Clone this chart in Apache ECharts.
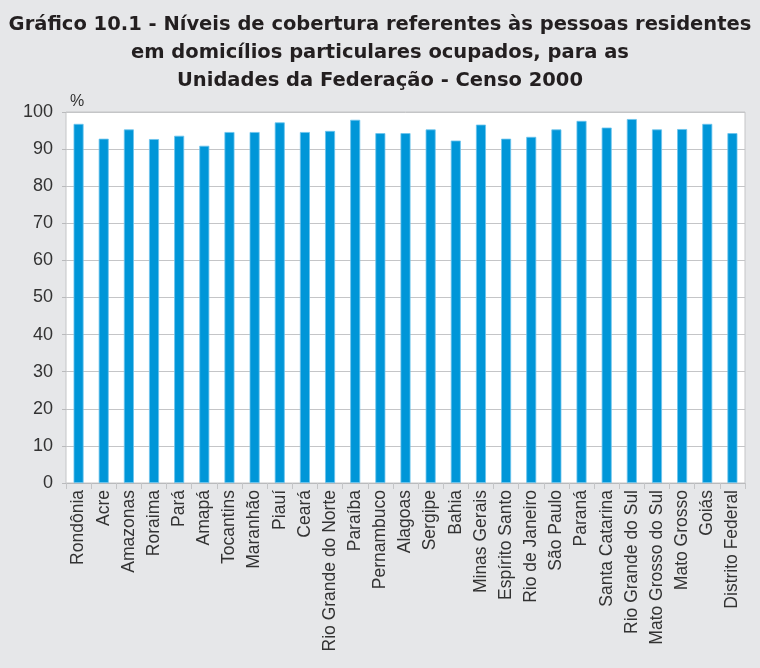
<!DOCTYPE html>
<html>
<head>
<meta charset="utf-8">
<script src="https://cdn.jsdelivr.net/npm/echarts@6/dist/echarts.min.js"></script>
<style>html,body{margin:0;padding:0;background:#e6e7e9;}#c{width:760px;height:668px;}</style>
</head>
<body>
<div id="c"></div>
<script>
const categories = ["Rondônia","Acre","Amazonas","Roraima","Pará","Amapá","Tocantins","Maranhão","Piauí","Ceará","Rio Grande do Norte","Paraíba","Pernambuco","Alagoas","Sergipe","Bahia","Minas Gerais","Espírito Santo","Rio de Janeiro","São Paulo","Paraná","Santa Catarina","Rio Grande do Sul","Mato Grosso do Sul","Mato Grosso","Goiás","Distrito Federal"];
const values = [96.8,92.8,95.3,92.7,93.6,90.9,94.6,94.6,97.2,94.6,94.9,97.9,94.3,94.3,95.3,92.3,96.6,92.8,93.3,95.3,97.6,95.8,98.1,95.3,95.4,96.8,94.3];
const titleText = "Gráfico 10.1 - Níveis de cobertura referentes às pessoas residentes\nem domicílios particulares ocupados, para as\nUnidades da Federação - Censo 2000";
const unitLabel = "%";

const chart = echarts.init(document.getElementById('c'));
chart.setOption({
  backgroundColor: '#e6e7e9',
  animation: false,
  title: {
    text: titleText,
    left: 'center',
    top: 6,
    textStyle: {fontFamily: 'DejaVu Sans', fontWeight: 'bold', fontSize: 19.5, color: '#231f20', lineHeight: 28}
  },
  grid: {left: 66, right: 15, top: 112, bottom: 185, show: true, backgroundColor: '#ffffff', borderColor: '#c4c5c7', borderWidth: 1},
  xAxis: {
    type: 'category',
    data: categories,
    axisLine: {lineStyle: {color: '#b9babc', width: 1}},
    axisTick: {show: true, length: 6, lineStyle: {color: '#c4c5c7'}},
    axisLabel: {rotate: 90, interval: 0, fontFamily: 'Liberation Sans', fontSize: 17.5, color: '#333333', margin: 7}
  },
  yAxis: {
    type: 'value',
    min: 0, max: 100, interval: 10,
    name: unitLabel,
    nameLocation: 'end',
    nameGap: 2,
    nameTextStyle: {fontFamily: 'Liberation Sans', fontSize: 16, color: '#333333', align: 'left', padding: [0,0,0,4]},
    axisLine: {show: false},
    axisTick: {show: true, length: 4, lineStyle: {color: '#b9babc'}},
    axisLabel: {fontFamily: 'Liberation Sans', fontSize: 18, color: '#333333', margin: 13},
    splitLine: {lineStyle: {color: '#c4c5c7', width: 1}}
  },
  series: [{
    type: 'bar',
    data: values,
    barWidth: 10,
    itemStyle: {color: '#0096d8', borderColor: '#6cc4ee', borderWidth: 0.8}
  }]
});
</script>
</body>
</html>
